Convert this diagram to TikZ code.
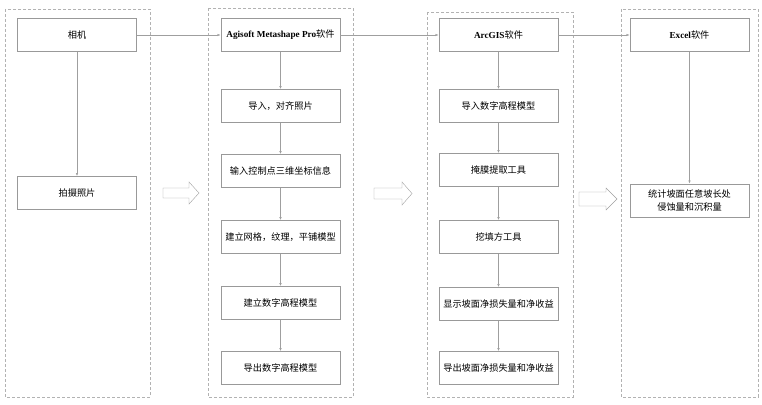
\documentclass[tikz,border=0pt]{standalone}
\usepackage{fontspec}
\setmainfont{Liberation Serif}
\newfontfamily\cjk{Noto Sans CJK SC}
\usetikzlibrary{arrows.meta}

\begin{document}
\begin{tikzpicture}[x=1pt,y=-1pt,
	box/.style={draw=gray!80, minimum width=119pt, minimum height=33pt,
		inner sep=1pt, align=center, font=\fontsize{9.2}{12.5}\selectfont\cjk},
	group/.style={draw=gray!60, dash pattern=on 3pt off 2pt},
	link/.style={draw=gray!75, -{Latex[length=3pt,width=2.4pt]}, shorten >=0.3pt}]
	
	% Page size
	\useasboundingbox (0,0) rectangle (762,404);
	
	% Draw the dashed groups
	\draw[group] (5,9) rectangle (150,397);
	\draw[group] (208,8) rectangle (353,397);
	\draw[group] (427,12) rectangle (573,397);
	\draw[group] (621,9) rectangle (758,397);
	
	% Camera column
	\node[box] (camera) at (77,35) {相机};
	\node[box] (photo) at (77,193) {拍摄照片};
	
	% Metashape column
	\node[box] (meta) at (280.5,35) {{\rmfamily\bfseries Agisoft Metashape Pro}软件};
	\node[box] (align) at (280.5,106) {导入，对齐照片};
	\node[box] (gcp) at (280.5,171) {输入控制点三维坐标信息};
	\node[box] (mesh) at (280.5,237) {建立网格，纹理，平铺模型};
	\node[box] (dem) at (280.5,303) {建立数字高程模型};
	\node[box] (demout) at (280.5,368) {导出数字高程模型};
	
	% ArcGIS column
	\node[box] (arcgis) at (498.5,35) {{\rmfamily\bfseries ArcGIS}软件};
	\node[box] (demin) at (498.5,106) {导入数字高程模型};
	\node[box] (mask) at (498.5,170) {掩膜提取工具};
	\node[box] (cutfill) at (498.5,237) {挖填方工具};
	\node[box] (show) at (498.5,304) {显示坡面净损失量和净收益};
	\node[box] (export) at (498.5,368) {导出坡面净损失量和净收益};
	
	% Excel column
	\node[box] (excel) at (689.5,35) {{\rmfamily\bfseries Excel}软件};
	\node[box] (stats) at (689.5,200.5) {统计坡面任意坡长处\\侵蚀量和沉积量};
	
	% Connectors along the top
	\draw[link] (camera) -- (meta);
	\draw[link] (meta) -- (arcgis);
	\draw[link] (arcgis) -- (excel);
	
	% Connectors down each column
	\draw[link] (camera) -- (photo);
	\draw[link] (meta) -- (align);
	\draw[link] (align) -- (gcp);
	\draw[link] (gcp) -- (mesh);
	\draw[link] (mesh) -- (dem);
	\draw[link] (dem) -- (demout);
	\draw[link] (arcgis) -- (demin);
	\draw[link] (demin) -- (mask);
	\draw[link] (mask) -- (cutfill);
	\draw[link] (cutfill) -- (show);
	\draw[link] (show) -- (export);
	\draw[link] (excel) -- (stats);
	
	% Hollow arrows between the groups
	\foreach \xa/\xb/\xc/\yc/\hs/\hh in {163/189/199/193/5/11, 374/402/412/193.5/5.5/11.5, 579/606/617/199/7/11}
		\draw[gray!75] (\xa,\yc-\hs) -- (\xb,\yc-\hs) -- (\xb,\yc-\hh) -- (\xc,\yc)
			-- (\xb,\yc+\hh) -- (\xb,\yc+\hs) -- (\xa,\yc+\hs) -- cycle;
	
\end{tikzpicture}
\end{document}
